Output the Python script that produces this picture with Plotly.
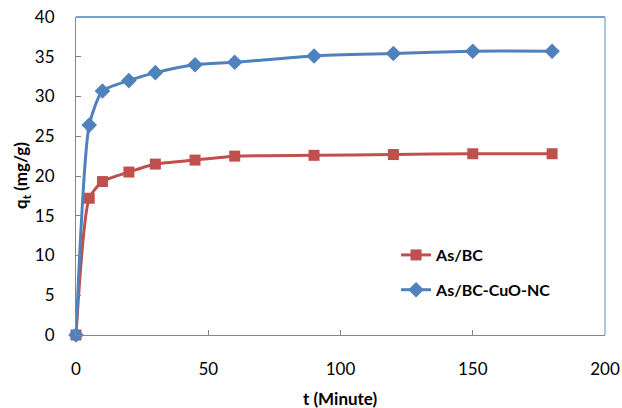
import plotly.graph_objects as go

t_minutes = [0, 5, 10, 20, 30, 45, 60, 90, 120, 150, 180]
q_as_bc = [0, 17.2, 19.3, 20.5, 21.5, 22.0, 22.5, 22.6, 22.7, 22.8, 22.8]
q_as_bc_cuo = [0, 26.4, 30.7, 32.0, 33.0, 34.0, 34.3, 35.1, 35.4, 35.7, 35.7]
x_ticks = [0, 50, 100, 150, 200]
y_ticks = [0, 5, 10, 15, 20, 25, 30, 35, 40]

FONT = "Lato"
fig = go.Figure()
fig.add_trace(go.Scatter(
    x=t_minutes, y=q_as_bc, name="As/BC", mode="lines+markers",
    line=dict(color="#C0504D", width=3, shape="spline", smoothing=0.6),
    marker=dict(symbol="square", size=11, color="#C0504D"),
    legendgroup="a", cliponaxis=False,
))
fig.add_trace(go.Scatter(
    x=t_minutes, y=q_as_bc_cuo, name="As/BC-CuO-NC", mode="lines+markers",
    line=dict(color="#4F81BD", width=3, shape="spline", smoothing=0.6),
    marker=dict(symbol="diamond", size=12, color="#4F81BD"),
    legendgroup="b", cliponaxis=False,
))

fig.update_layout(
    width=622, height=408,
    margin=dict(l=76, r=17, t=17, b=73),
    paper_bgcolor="white", plot_bgcolor="white",
    font=dict(family=FONT, size=16, color="black"),
    showlegend=True,
    legend=dict(x=0.605, y=0.305, xanchor="left", yanchor="top",
                font=dict(family=FONT, size=16, color="black", weight="bold"),
                bgcolor="rgba(0,0,0,0)", tracegroupgap=11, itemwidth=30),
    xaxis=dict(range=[0, 200], tickvals=x_ticks, ticks="inside", ticklen=5,
               tickcolor="#868686", showline=True, linecolor="#868686", linewidth=1,
               showgrid=False, zeroline=False, ticklabelstandoff=19, automargin=False,
               tickfont=dict(size=17)),
    yaxis=dict(range=[0, 40], tickvals=y_ticks, ticks="inside", ticklen=5,
               tickcolor="#868686", showline=True, linecolor="#868686", linewidth=1,
               showgrid=False, zeroline=False, ticklabelstandoff=17, automargin=False,
               tickfont=dict(size=17)),
    annotations=[
        dict(text="<b>t (Minute)</b>", xref="paper", yref="paper", x=0.5, y=0,
             xanchor="center", yanchor="middle", yshift=-63, showarrow=False,
             font=dict(size=17)),
        dict(text="<b>q<sub>t</sub> (mg/g)</b>", xref="paper", yref="paper", x=0, y=0.5,
             xanchor="center", yanchor="middle", xshift=-54, textangle=-90,
             showarrow=False, font=dict(size=17)),
    ],
)
fig.add_shape(type="line", xref="paper", yref="paper", x0=0, x1=1, y0=1, y1=1,
              line=dict(color="#4F81BD", width=1.5))
fig.add_shape(type="line", xref="paper", yref="paper", x0=1, x1=1, y0=0, y1=1,
              line=dict(color="#95B3D7", width=1.5))

fig.write_html("out.html", config={"displayModeBar": False},
               post_script="document.body.style.margin='0';")
